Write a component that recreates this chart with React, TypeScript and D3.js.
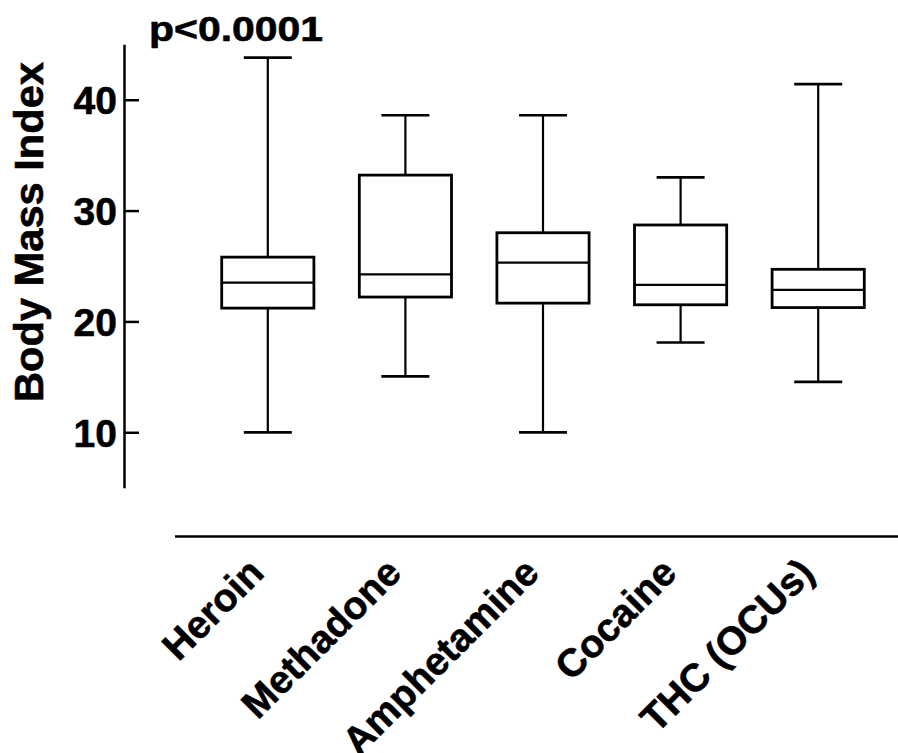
import React, { useEffect, useRef } from "react";
import * as d3 from "d3";

const categories = ["Heroin", "Methadone", "Amphetamine", "Cocaine", "THC (OCUs)"];
const whiskerMax = [43.8, 38.6, 38.6, 33.0, 41.4];
const q3 = [25.8, 33.2, 28.0, 28.7, 24.7];
const median = [23.5, 24.25, 25.3, 23.3, 22.85];
const q1 = [21.2, 22.2, 21.65, 21.5, 21.25];
const whiskerMin = [10, 15.05, 10, 18.1, 14.55];
const yTicks = [10, 20, 30, 40];
const yDomain = [5, 45];
const yLabel = "Body Mass Index";
const pLabel = "p<0.0001";

const W = 898;
const H = 753;
const FONT = "'Liberation Sans', Arial, Helvetica, sans-serif";

export default function App() {
  const axisRef = useRef<SVGGElement>(null);

  const y = d3.scaleLinear().domain(yDomain).range([487.7, 44.3]);
  const x = d3
    .scaleBand<string>()
    .domain(categories)
    .range([167.7, 918.3])
    .paddingInner(0.33)
    .paddingOuter(0.3925);
  const bw = x.bandwidth();
  const capW = 48;

  useEffect(() => {
    if (!axisRef.current) return;
    const g = d3.select(axisRef.current);
    g.selectAll("*").remove();
    g.call(
      d3
        .axisLeft(y)
        .tickValues(yTicks)
        .tickSizeInner(-15)
        .tickSizeOuter(0)
        .tickPadding(7)
        .tickFormat(d3.format("d") as any)
    );
    g.select(".domain").attr("stroke", "#000").attr("stroke-width", 2.5);
    g.selectAll(".tick line").attr("stroke", "#000").attr("stroke-width", 2.5);
    g.selectAll(".tick text")
      .attr("fill", "#000")
      .attr("stroke", "#000")
      .attr("stroke-width", 0.6)
      .attr("font-family", FONT)
      .attr("font-weight", "bold")
      .attr("font-size", 39)
      .attr("dy", "0.36em");
  }, []);

  const data = categories.map((c, i) => ({
    c,
    max: whiskerMax[i],
    q3: q3[i],
    med: median[i],
    q1: q1[i],
    min: whiskerMin[i],
  }));

  return (
    <svg
      width={W}
      height={H}
      style={{ position: "absolute", left: 0, top: 0, background: "#fff" }}
    >
      <rect x={0} y={0} width={W} height={H} fill="#fff" />
      <g ref={axisRef} transform="translate(124,0)" />
      <text
        transform={`translate(43,232) rotate(-90)`}
        textAnchor="middle"
        fontFamily={FONT}
        fontWeight="bold"
        fontSize={40}
        textLength={340}
        lengthAdjust="spacingAndGlyphs"
        fill="#000"
        stroke="#000"
        strokeWidth={0.6}
      >
        {yLabel}
      </text>
      <text
        x={149}
        y={41}
        fontFamily={FONT}
        fontWeight="bold"
        fontSize={35}
        textLength={174}
        lengthAdjust="spacingAndGlyphs"
        fill="#000"
        stroke="#000"
        strokeWidth={0.6}
      >
        {pLabel}
      </text>
      {data.map((d) => {
        const cx = (x(d.c) as number) + bw / 2;
        const x0 = x(d.c) as number;
        return (
          <g key={d.c} stroke="#000" fill="none">
            <line x1={cx} x2={cx} y1={y(d.max)} y2={y(d.q3)} strokeWidth={2.2} />
            <line x1={cx} x2={cx} y1={y(d.q1)} y2={y(d.min)} strokeWidth={2.2} />
            <line x1={cx - capW / 2} x2={cx + capW / 2} y1={y(d.max)} y2={y(d.max)} strokeWidth={2.7} />
            <line x1={cx - capW / 2} x2={cx + capW / 2} y1={y(d.min)} y2={y(d.min)} strokeWidth={2.7} />
            <rect x={x0} y={y(d.q3)} width={bw} height={y(d.q1) - y(d.q3)} strokeWidth={2.8} fill="#fff" />
            <line x1={x0} x2={x0 + bw} y1={y(d.med)} y2={y(d.med)} strokeWidth={2.2} />
          </g>
        );
      })}
      <line x1={175} x2={W} y1={536.5} y2={536.5} stroke="#000" strokeWidth={2.5} />
      {categories.map((c) => {
        const cx = (x(c) as number) + bw / 2 - 2;
        return (
          <text
            key={c}
            transform={`translate(${cx},575) rotate(-45)`}
            textAnchor="end"
            fontFamily={FONT}
            fontWeight="bold"
            fontSize={39}
            fill="#000"
            stroke="#000"
            strokeWidth={0.6}
          >
            {c}
          </text>
        );
      })}
    </svg>
  );
}
